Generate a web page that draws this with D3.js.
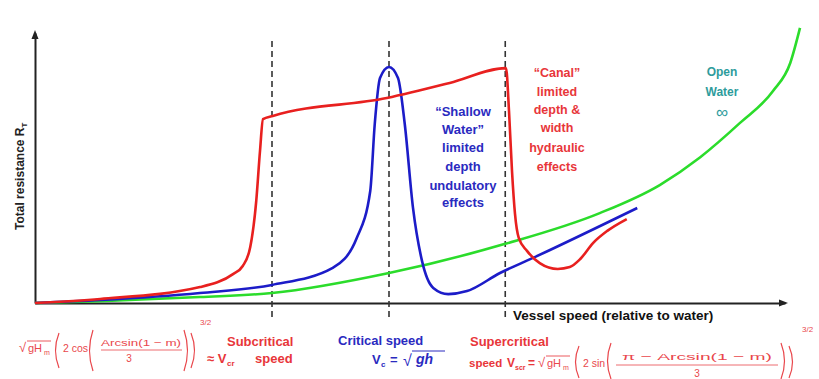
<!DOCTYPE html>
<html><head><meta charset="utf-8">
<script src="https://cdn.jsdelivr.net/npm/d3@7"></script>
<style>html,body{margin:0;padding:0;background:#fff;} svg{display:block;font-family:"Liberation Sans",Arial,sans-serif;}</style>
</head><body><svg id="c" width="819" height="379"></svg>
<script>
// ---- data (speed units 0..10, resistance units 0..10) ----
const openWaterX = [0, 0.87, 2.2, 3.16, 4.72, 6.27, 7.53, 8.33, 8.87, 9.4, 9.84, 10.07, 10.2];
const openWaterY = [0, 0.07, 0.22, 0.37, 1.11, 2.19, 3.33, 4.37, 5.4, 6.67, 7.85, 8.89, 10.19];
const shallowX = [0, 0.87, 2.2, 3.16, 3.97, 4.29, 4.47, 4.53, 4.6, 4.72, 4.84, 4.93, 5.04, 5.16, 5.31, 5.51, 5.76, 6.2, 6.64, 8.03];
const shallowY = [0, 0.11, 0.37, 0.67, 1.30, 2.41, 4.15, 6.63, 8.33, 8.74, 8.33, 6.63, 3.52, 1.56, 0.56, 0.33, 0.44, 1.11, 1.67, 3.52];
const canalX = [0, 0.87, 2.2, 2.64, 2.77, 2.87, 2.95, 3.0, 3.04, 3.17, 4.69, 5.53, 6.28, 6.32, 6.36, 6.4, 6.45, 6.56, 6.73, 6.97, 7.13, 7.27, 7.44, 7.63, 7.89];
const canalY = [0, 0.15, 0.59, 1.07, 1.37, 2.07, 3.78, 5.63, 6.81, 6.93, 7.59, 8.15, 8.70, 7.11, 4.89, 3.30, 2.41, 1.93, 1.48, 1.26, 1.33, 1.63, 2.22, 2.67, 3.11];
const regimeSpeeds = [3.16, 4.72, 6.27];
const shallowLabel = ["\u201CShallow", "Water\u201D", "limited", "depth", "undulatory", "effects"];
const canalLabel = ["\u201CCanal\u201D", "limited", "depth &", "width", "hydraulic", "effects"];
const openLabel = ["Open", "Water", "\u221E"];
const xTitle = "Vessel speed (relative to water)";
const yTitle = "Total resistance R";

const RED = "#e8201f", BLUE = "#1c1cc8", GREEN = "#2bdc2b", TEAL = "#2e9c9c";
const RTXT = "#e8363a", BTXT = "#2a2abf", FRED = "#e9474c";

const svg = d3.select("#c");
const x = d3.scaleLinear().domain([0, 10]).range([35, 785]);
const y = d3.scaleLinear().domain([0, 10]).range([303, 33]);

// axes
svg.append("g").attr("transform", `translate(0,${y(0)})`)
  .call(d3.axisBottom(x).tickValues([]).tickSizeOuter(0))
  .call(g => g.select(".domain").attr("stroke", "#222").attr("stroke-width", 2));
svg.append("g").attr("transform", `translate(${x(0)},0)`)
  .call(d3.axisLeft(y).tickValues([]).tickSizeOuter(0))
  .call(g => g.select(".domain").attr("stroke", "#222").attr("stroke-width", 2));
// arrowheads
svg.append("path").attr("fill", "#222")
  .attr("d", `M${x(10)-6},${y(0)-3.5}L${x(10)+3},${y(0)}L${x(10)-6},${y(0)+3.5}Z`);
svg.append("path").attr("fill", "#222")
  .attr("d", `M${x(0)-3.5},${y(10)+6}L${x(0)},${y(10)-3}L${x(0)+3.5},${y(10)+6}Z`);

// regime dashed lines
svg.selectAll("line.reg").data(regimeSpeeds).join("line").attr("class", "reg")
  .attr("x1", d => x(d)).attr("x2", d => x(d))
  .attr("y1", y(9.7)).attr("y2", y(-0.55))
  .attr("stroke", "#333").attr("stroke-width", 1.6).attr("stroke-dasharray", "6,4");

const line = d3.line().x(d => x(d[0])).y(d => y(d[1])).curve(d3.curveMonotoneX);
[[openWaterX, openWaterY, GREEN], [shallowX, shallowY, BLUE], [canalX, canalY, RED]].forEach(([xs, ys, c]) => {
  svg.append("path").datum(d3.zip(xs, ys)).attr("d", line)
    .attr("fill", "none").attr("stroke", c).attr("stroke-width", 2.6).attr("stroke-linejoin", "round");
});

// in-plot labels
function block(lines, cx, baselines, color, size) {
  svg.append("g").selectAll("text").data(lines).join("text")
    .attr("x", cx).attr("y", (d, i) => baselines[i]).attr("text-anchor", "middle")
    .attr("font-weight", "bold").attr("font-size", size).attr("fill", color).text(d => d);
}
block(shallowLabel, 463, [116, 134, 152, 171, 190, 207], BTXT, 13);
block(canalLabel, 557, [77, 96, 114, 132, 152, 171], RTXT, 12.5);
block(openLabel.slice(0, 2), 722, [76, 96], TEAL, 12);
svg.append("text").attr("x", 722).attr("y", 118).attr("text-anchor", "middle")
  .attr("font-size", 17).attr("fill", TEAL).text(openLabel[2]);

// axis titles
svg.append("text").attr("x", 513).attr("y", 320).attr("font-weight", "bold").attr("font-size", 13.5)
  .attr("fill", "#111").text(xTitle);
const yt = svg.append("text").attr("transform", "translate(24,230) rotate(-90)")
  .attr("font-weight", "bold").attr("font-size", 12).attr("fill", "#222");
yt.append("tspan").text(yTitle);
yt.append("tspan").attr("font-size", 8).attr("dy", 3).text("T");

// ---- formula helpers ----
function txt(xp, yp, s, opt = {}) {
  const t = svg.append("text").attr("x", xp).attr("y", yp).attr("fill", opt.fill || FRED)
    .attr("font-size", opt.size || 11).attr("font-weight", opt.bold ? "bold" : "normal")
    .attr("font-style", opt.italic ? "italic" : "normal")
    .attr("text-anchor", opt.anchor || "start").text(s);
  if (opt.len) t.attr("textLength", opt.len).attr("lengthAdjust", "spacingAndGlyphs");
  return t;
}
function paren(x0, top, bot, open, color) {
  const w = 5, mid = (top + bot) / 2;
  const d = open ? `M${x0 + w},${top}Q${x0 - 2},${mid} ${x0 + w},${bot}`
                 : `M${x0},${top}Q${x0 + w + 2},${mid} ${x0},${bot}`;
  svg.append("path").attr("d", d).attr("fill", "none").attr("stroke", color || FRED).attr("stroke-width", 1.2);
}
function hline(x1, x2, yp, color, w) {
  svg.append("line").attr("x1", x1).attr("x2", x2).attr("y1", yp).attr("y2", yp)
    .attr("stroke", color || FRED).attr("stroke-width", w || 0.8);
}
function sqrtGH(x0, base, color) {
  txt(x0, base, "\u221A", {size: 13, fill: color});
  hline(x0 + 8, x0 + 32, base - 11, color, 0.9);
  txt(x0 + 9, base, "gH", {size: 11, fill: color});
  txt(x0 + 25, base + 3, "m", {size: 7, fill: color});
}

// subcritical formula (left)
sqrtGH(19, 352);
paren(54, 333, 368, true);
txt(63, 352, "2 cos", {size: 10.5});
paren(88, 330, 371, true);
txt(141, 346, "Arcsin(1 \u2212 m)", {size: 9.5, anchor: "middle", len: 80});
hline(101, 182, 350);
txt(129, 362, "3", {size: 10, anchor: "middle"});
paren(184, 330, 371, false);
paren(191, 333, 368, false);
txt(200, 325, "3/2", {size: 8});
txt(227, 346, "Subcritical", {size: 13, bold: true, fill: RTXT});
txt(207, 363, "\u2248 V", {size: 13, bold: true, fill: RTXT});
txt(227, 366, "cr", {size: 8, bold: true, fill: RTXT});
txt(255, 363, "speed", {size: 13, bold: true, fill: RTXT});

// critical
txt(338, 345, "Critical speed", {size: 13, bold: true, fill: BTXT});
txt(372, 364, "V", {size: 13, bold: true, fill: BTXT});
txt(381, 367, "c", {size: 8, bold: true, fill: BTXT});
txt(390, 364, "=", {size: 13, bold: true, fill: BTXT});
txt(403, 366, "\u221A", {size: 16, fill: BTXT});
hline(412, 445, 351, BTXT, 1);
txt(416, 364, "gh", {size: 14, bold: true, italic: true, fill: BTXT});

// supercritical
txt(470, 346, "Supercritical", {size: 13, bold: true, fill: RTXT});
txt(469, 367, "speed", {size: 11.5, bold: true, fill: RTXT});
txt(507, 367, "V", {size: 12, bold: true, fill: RTXT});
txt(515, 370, "scr", {size: 7, bold: true, fill: RTXT});
txt(528, 367, "=", {size: 12, bold: true, fill: RTXT});
sqrtGH(538, 367);
paren(574, 346, 378, true);
txt(583, 367, "2 sin", {size: 10.5});
paren(606, 343, 379, true);
txt(697, 360, "\u03C0 \u2212 Arcsin(1 \u2212 m)", {size: 9.5, anchor: "middle", len: 150});
hline(616, 778, 365);
txt(697, 377, "3", {size: 10, anchor: "middle"});
paren(781, 343, 379, false);
paren(789, 346, 378, false);
txt(802, 332, "3/2", {size: 8});
</script></body></html>
